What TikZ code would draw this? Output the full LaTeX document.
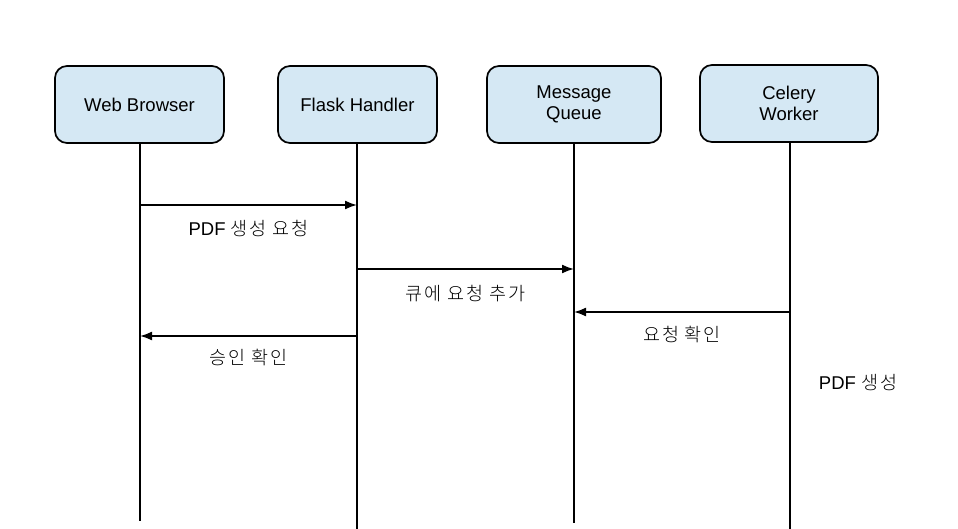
\documentclass[tikz,border=0pt]{standalone}
\usepackage{fontspec}
\setmainfont{Liberation Sans}
\newfontfamily\kr[LetterSpace=10]{Noto Sans CJK KR Light}
\usepackage{tikz}
\usetikzlibrary{positioning,calc,arrows.meta}
\definecolor{boxblue}{RGB}{213,232,244}

\begin{document}
\begin{tikzpicture}[x=1pt, y=-1pt, line width=1.7pt,
    actor/.style={draw, rounded corners=12pt, fill=boxblue, minimum height=77pt, align=center, font=\fontsize{18.5}{20.5}\selectfont},
    msg/.style={-{Latex[length=12pt,width=9pt]}},
    lbl/.style={font=\fontsize{18.5}{22}\selectfont}]
    \useasboundingbox (0,0) rectangle (958,529);
    \node[actor, minimum width=169pt] (wb) at (139.5,104.5) {Web Browser};
    \node[actor, minimum width=159pt] (fh) at (357.5,104.5) {Flask Handler};
    \node[actor, minimum width=174pt] (mq) at (574,104.5) {Message\\Queue};
    \node[actor, minimum width=178pt] (cw) at (789,103.5) {Celery\\Worker};
    % lifelines
    \coordinate (wbend) at (140,521);
    \coordinate (fhend) at (357,529);
    \coordinate (mqend) at (574,523);
    \coordinate (cwend) at (790,529);
    \draw (wb.south -| wbend) -- (wbend);
    \draw (fh.south -| fhend) -- (fhend);
    \draw (mq.south -| mqend) -- (mqend);
    \draw (cw.south -| cwend) -- (cwend);
    % messages
    \draw[msg] (wbend |- 0,205) -- (fhend |- 0,205) node[lbl, midway, yshift=-23pt] {PDF {\kr 생성 요청}};
    \draw[msg] (fhend |- 0,269) -- (mqend |- 0,269) node[lbl, midway, yshift=-25pt] {\kr 큐에 요청 추가};
    \draw[msg] (cwend |- 0,312) -- (mqend |- 0,312) node[lbl, midway, yshift=-23pt] {\kr 요청 확인};
    \draw[msg] (fhend |- 0,336) -- (wbend |- 0,336) node[lbl, midway, yshift=-22pt] {\kr 승인 확인};
    \node[lbl] (gen) at (858,383) {PDF {\kr 생성}};
\end{tikzpicture}
\end{document}
